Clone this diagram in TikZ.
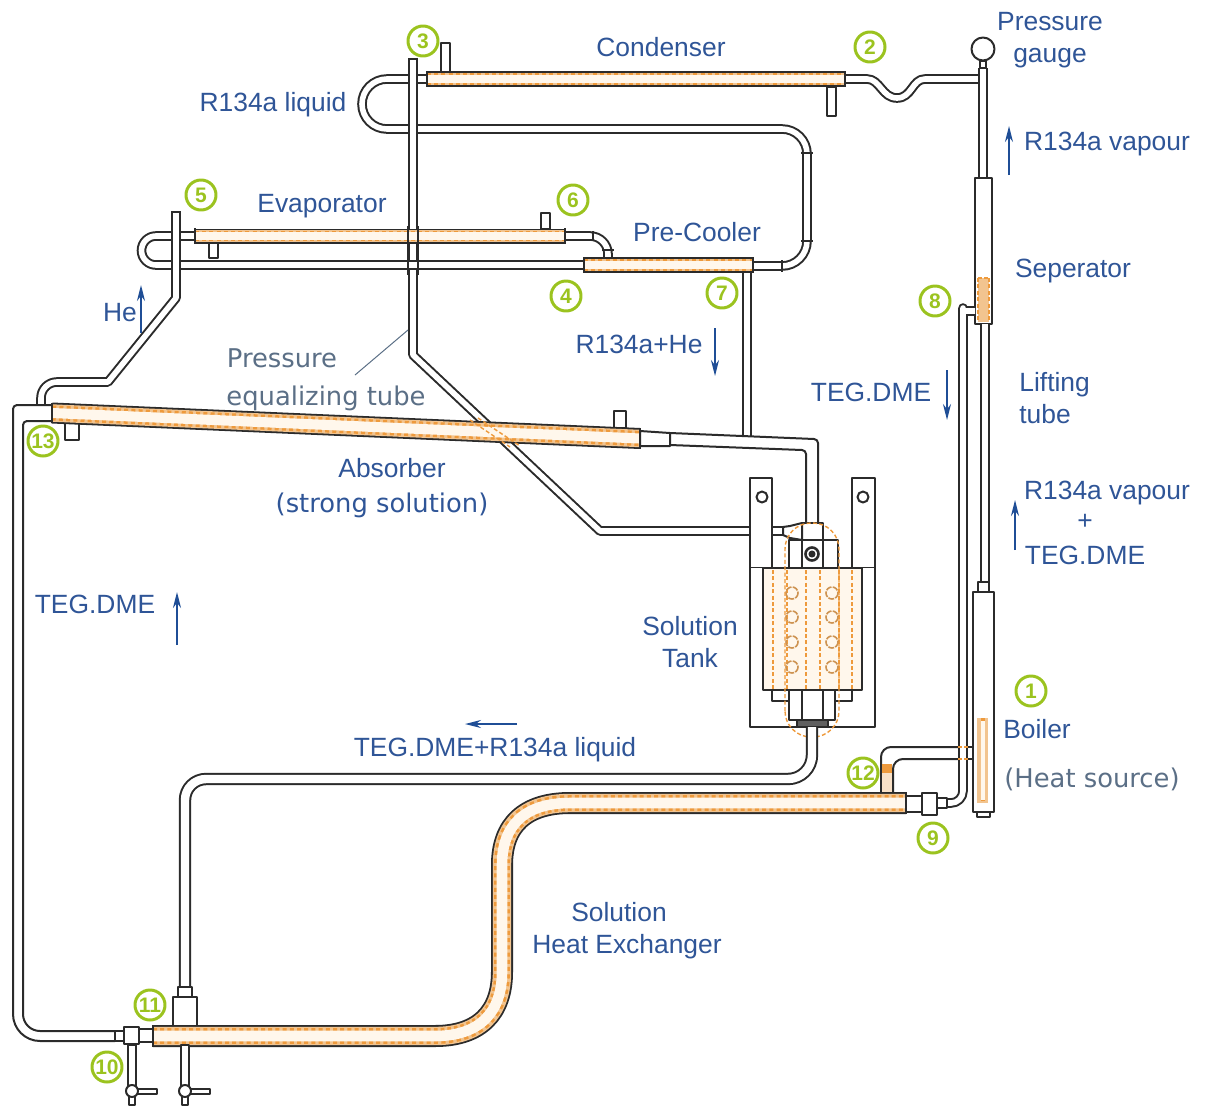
\documentclass[tikz,border=0pt]{standalone}
\usepackage{fontspec}
\setmainfont{Liberation Sans}
\newfontfamily\widefont{DejaVu Sans}
\usetikzlibrary{arrows.meta}
\definecolor{tubeline}{HTML}{2B2B2B}
\definecolor{labelblue}{HTML}{2F5597}
\definecolor{greylabel}{HTML}{5B6F86}
\definecolor{taggreen}{HTML}{9BC31F}
\definecolor{flowblue}{HTML}{1F4E96}
\definecolor{shelltan}{HTML}{F2C48F}
\definecolor{heatorange}{HTML}{EE9A3C}
\definecolor{corecream}{HTML}{FFF7EC}

\begin{document}
\begin{tikzpicture}[
  x=.5pt, y=-.5pt,
  line join=round,
  labeltext/.style={text=labelblue, font=\fontsize{13.2}{16}\selectfont, inner sep=0pt, align=center},
  greytext/.style={text=greylabel, font=\widefont\fontsize{12.9}{14}\selectfont, inner sep=0pt},
  tagmark/.style={draw=taggreen, line width=1.5pt, circle, minimum size=15pt, inner sep=0pt,
    text=taggreen, font=\bfseries\fontsize{10.5}{12}\selectfont},
  flow/.style={draw=flowblue, line width=.9pt, -{Stealth[length=8pt,width=4pt]}},
  tube/.style={draw=tubeline, line width=1pt, double=white, double distance=#1},
  tube/.default=2.8pt,
  shell/.style={draw=tubeline, line width=1pt},
  part/.style={draw=tubeline, line width=1pt, fill=white},
  vessel/.style={draw=tubeline, line width=#1*.5pt,
    postaction={draw=shelltan, line width=#1*.5pt-1.8pt},
    postaction={draw=heatorange, line width=#1*.36pt, dash pattern=on 2pt off 1.6pt},
    postaction={draw=corecream, line width=#1*.24pt}},
  heatmark/.style={draw=heatorange, line width=.7pt, dash pattern=on 2pt off 1.2pt}
]
\useasboundingbox (0,0) rectangle (1211,1109);

% Condenser and return bend
\draw[tube] (845,79) -- (867,79) .. controls (880,79) and (882,98) .. (897,98)
  .. controls (912,98) and (912,79) .. (925,79) -- (983,79);
\draw[tube] (427,79) -- (387,79) arc[start angle=270, end angle=90, radius=25] -- (782,129)
  arc[start angle=-90, end angle=0, radius=25] -- (807,241)
  arc[start angle=0, end angle=90, radius=25] -- (753,266);
\draw[shell] (801,153) -- (813,153) (801,241) -- (813,241) (782,260) -- (782,272);
\draw[part] (441,43) rectangle (450,72);
\draw[part] (827,87) rectangle (836,116);
\draw[vessel=16] (427,79) -- (845,79);
\draw[shell] (427,71) -- (427,87) (845,71) -- (845,87);

% Pressure equalizing tube
\draw[tube] (413,59) -- (413,355) -- (600,531) -- (785,531);
\draw[shell] (408,59) -- (418,59);

% Evaporator and pre-cooler
\draw[tube] (584,265) -- (156,265) arc[start angle=90, end angle=270, radius=14.5] -- (195,236);
\draw[tube] (565,236) -- (590,236) arc[start angle=-90, end angle=0, radius=18] -- (608,258);
\draw[shell] (593,231) -- (593,241) (602,250) -- (614,250);
\draw[part] (541,213) rectangle (550,229);
\draw[part] (209,243) rectangle (218,258);
\draw[vessel=15] (195,236) -- (565,236);
\draw[shell] (195,228) -- (195,244) (565,228) -- (565,244);
\draw[tube] (747,273) -- (747,436);
\draw[vessel=16] (584,265) -- (753,265);
\draw[shell] (584,257) -- (584,273) (753,257) -- (753,273);
\draw[shell] (408,226) -- (408,275) (418,226) -- (418,275);
\draw[tube] (176,212) -- (176,298) -- (108,382) [rounded corners=8pt] -- (41,382) -- (41,405);
\draw[shell] (171,212) -- (181,212);

% Absorber
\draw[shell] (52,405) -- (17,405) arc[start angle=270, end angle=180, radius=4] -- (13,1014)
  arc[start angle=180, end angle=90, radius=27] -- (115,1041);
\draw[shell] (52,421) -- (27,421) arc[start angle=270, end angle=180, radius=4] -- (23,1014)
  arc[start angle=180, end angle=90, radius=17] -- (115,1031);
\draw[part] (65,423) rectangle (79,440);
\draw[part] (614,411) rectangle (626,428);
\draw[vessel=21] (52,413) -- (640,438.5);
\draw[shell] (52,403) -- (52,423) (640,428) -- (640,449);
\draw[heatmark] (470,420) -- (510,447) (478,418) -- (520,446);
\draw[shell, fill=white] (670,433) -- (814,439) arc[start angle=270, end angle=360, radius=4] -- (818,523)
  -- (806,523) -- (806,454) arc[start angle=0, end angle=-90, radius=4] -- (670,445);
\draw[part] (640,431) -- (670,433) -- (670,446) -- (640,446) -- cycle;

% Solution tank
\draw[part] (750,478) rectangle (772,568);
\draw[part] (852,478) rectangle (875,568);
\draw[part] (750,568) -- (750,727) -- (875,727) -- (875,568);
\draw[part, fill=corecream] (763,568) rectangle (862,690);
\draw[part] (772,690) rectangle (852,701);
\draw[part] (789,540) rectangle (838,568);
\draw[part] (789,690) rectangle (835,720);
\draw[part] (802,523) rectangle (823,540);
\draw[shell] (802,690) -- (802,720) (823,690) -- (823,720);
\draw[part] (802,540) rectangle (823,568);
\draw[shell, fill=tubeline!75] (797,720) rectangle (828,727);
\draw[part] (783,527) -- (790,526) -- (802,523) -- (802,540) -- (790,538) -- (783,535) -- cycle;
\foreach \x in {773,787,806,820,839,852}
  \draw[heatmark] (\x,570) -- (\x,689);
\foreach \x in {792,832}
  \foreach \y in {593,617,642,667}
    \draw[draw=heatorange!70!gray, line width=.8pt, dash pattern=on 3pt off .6pt] (\x,\y) circle[radius=6];
\draw[heatmark, rounded corners=13pt] (785,737) -- (785,523) -- (839,523) -- (839,737) -- cycle;
\draw[shell, line width=1.3pt, fill=white] (812,554) circle[radius=6.5];
\draw[shell, fill=tubeline] (812,554) circle[radius=2.5];
\draw[part] (762,497) circle[radius=5.5];
\draw[part] (863,497) circle[radius=5.5];

% Solution heat exchanger
\draw[tube=4.2pt] (812,727) -- (812,755) arc[start angle=0, end angle=90, radius=24] -- (206,779)
  arc[start angle=270, end angle=180, radius=21] -- (185,987);
\draw[part] (178,987) rectangle (192,997);
\draw[part] (173,997) rectangle (197,1026);
\draw[vessel=22] (153,1036) -- (435,1036) .. controls (480,1036) and (502,1012) .. (502,972)
  -- (502,865) .. controls (502,825) and (525,803) .. (570,803) -- (906,803);
\draw[shell] (153,1025) -- (153,1047) (906,792) -- (906,814);
\draw[part] (115,1031) rectangle (124,1041);
\draw[part] (124,1027) rectangle (139,1044);
\draw[part] (139,1029) rectangle (153,1042);

% Valves
\foreach \x in {132,185}{
  \draw[part] (\x-4,1045) rectangle (\x+4,1086);
  \draw[part] (\x+3,1089) rectangle (\x+25,1094);
  \draw[part] (\x-3,1096) rectangle (\x+3,1105);
  \draw[part] (\x,1091) circle[radius=6];
}

% Seperator, lifting tube and boiler
\draw[tube] (983,68) -- (983,178);
\draw[shell, fill=white] (983,49) circle[radius=11.5];
\draw[part] (980,61) rectangle (986,68);
\draw[part] (975,178) rectangle (992,324);
\fill[shelltan] (978,278) rectangle (989,322);
\draw[heatmark] (978,278) -- (978,322) (989,278) -- (989,322) (978,278) -- (989,278);
\draw[tube] (985,324) -- (985,582);
\draw[tube] (975,311) -- (963,311) [rounded corners=6pt] -- (963,320) -- (963,803) -- (947,803);
\draw[part] (978,582) rectangle (989,592);
\draw[part] (973,592) rectangle (994,812);
\draw[part] (977,812) rectangle (990,817);
\draw[draw=shelltan, line width=5.4pt] (982.5,718) -- (982.5,803);
\draw[heatmark, line width=2pt, dash pattern=on 2pt off 1.6pt] (982.5,718) -- (982.5,803);
\draw[draw=corecream, line width=2pt] (982.5,721) -- (982.5,800);

% Branch to the heat exchanger
\draw[shell, rounded corners=5pt] (958,747) -- (881,747) -- (881,793);
\draw[shell, rounded corners=5pt] (958,759) -- (893,759) -- (893,793);
\draw[shell] (968,747) -- (973,747) (968,759) -- (973,759);
\draw[heatmark] (958,747) -- (968,747) (958,759) -- (968,759);
\fill[heatorange] (882,764) rectangle (892,773);
\fill[shelltan!50] (882,773) rectangle (892,792);
\draw[part] (906,796) rectangle (922,812);
\draw[part] (922,793) rectangle (937,815);
\draw[part] (937,798) rectangle (947,808);

% Leader and flow arrows
\draw[draw=greylabel, line width=.5pt] (355,375) -- (408,330);
\draw[flow] (1009,175) -- (1009,126);
\draw[flow] (141,333) -- (141,285);
\draw[flow] (715,328) -- (715,376);
\draw[flow] (947,370) -- (947,420);
\draw[flow] (1015,550) -- (1015,500);
\draw[flow] (177,645) -- (177,592);
\draw[flow] (517,724) -- (465,724);

% Labels
\node[labeltext] (gaugetext) at (1050,40) {Pressure\\gauge};
\node[labeltext] (condensertext) at (661,47) {Condenser};
\node[labeltext] (liquidtext) at (273,105) {R134a liquid};
\node[labeltext] (vapourtop) at (1107,144) {R134a vapour};
\node[labeltext] (evaporatortext) at (322,206) {Evaporator};
\node[labeltext] (precoolertext) at (697,232) {Pre-Cooler};
\node[labeltext] (seperatortext) at (1073,271) {Seperator};
\node[labeltext] (hetext) at (120,313) {He};
\node[labeltext] (mixtext) at (639,344) {R134a+He};
\node[greytext] (equaltop) at (282,358) {Pressure};
\node[greytext] (equalbottom) at (326,398) {equalizing tube};
\node[labeltext] (tegdown) at (871,392) {TEG.DME};
\node[labeltext, align=left, anchor=west] (liftingtext) at (1019,398) {Lifting\\tube};
\node[labeltext] (absorbertext) at (392,468) {Absorber};
\node[greytext, text=labelblue] (strongtext) at (382,505) {(strong solution)};
\node[labeltext] (vapourmid) at (1107,493) {R134a vapour};
\node[labeltext] (plustext) at (1085,522) {+};
\node[labeltext] (tegmid) at (1085,555) {TEG.DME};
\node[labeltext] (tegleft) at (95,604) {TEG.DME};
\node[labeltext] (tanktext) at (690,642) {Solution\\Tank};
\node[labeltext] (returntext) at (495,750) {TEG.DME+R134a liquid};
\node[labeltext] (boilertext) at (1037,729) {Boiler};
\node[greytext] (heattext) at (1092,779) {(Heat source)};
\node[labeltext] (solutiontext) at (619,912) {Solution};
\node[labeltext] (exchangertext) at (627,947) {Heat Exchanger};

% State points
\foreach \x/\y/\n in {1031/691/1, 870/47/2, 423/41/3, 566/296/4, 201/195/5, 573/200/6, 722/293/7,
    935/301/8, 933/838/9, 107/1067/10, 150/1005/11, 863/773/12, 43/441/13}
  \node[tagmark] (state\n) at (\x,\y) {\n};

\end{tikzpicture}
\end{document}
